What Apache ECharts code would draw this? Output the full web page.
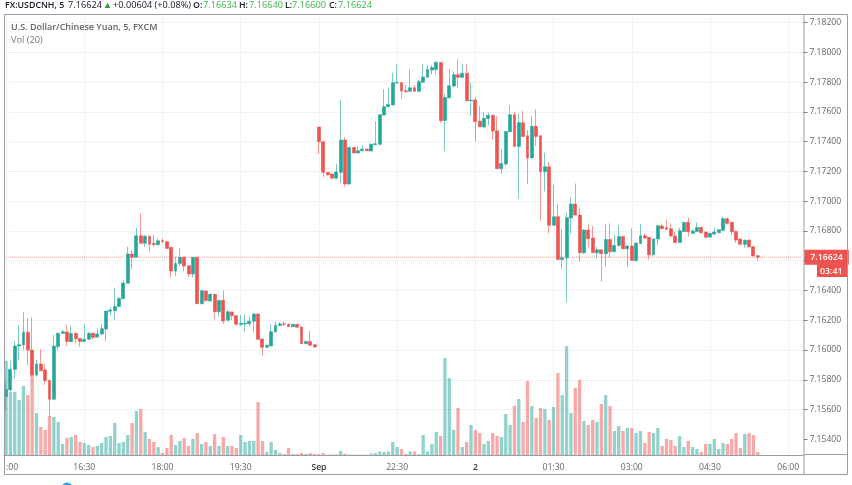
<!DOCTYPE html>
<html><head><meta charset="utf-8">
<style>html,body{margin:0;padding:0;background:#fff}#c{width:852px;height:485px}</style>
<script src="https://cdn.jsdelivr.net/npm/echarts@6/dist/echarts.min.js"></script>
</head><body><div id="c"></div>
<script>
const opens=[7.15687,7.15732,7.15870,7.16027,7.16034,7.16119,7.16000,7.15832,7.15906,7.15866,
7.15796,7.15669,7.16022,7.16112,7.16121,7.16056,7.16112,7.16078,7.16058,7.16072,
7.16112,7.16087,7.16108,7.16141,7.16260,7.16264,7.16293,7.16345,7.16448,7.16645,
7.16623,7.16768,7.16717,7.16762,7.16717,7.16708,7.16735,7.16728,7.16690,7.16531,
7.16582,7.16623,7.16567,7.16511,7.16623,7.16311,7.16397,7.16330,7.16374,7.16258,
7.16334,7.16200,7.16256,7.16231,7.16171,7.16175,7.16177,7.16193,7.16242,7.16074,
7.16018,7.16027,7.16121,7.16164,7.16177,7.16173,7.16157,7.16173,7.16155,7.16043,
7.16058,7.16036,7.17498,7.17400,7.17194,7.17183,7.17155,7.17194,7.17411,7.17115,
7.17362,7.17324,7.17339,7.17350,7.17337,7.17380,7.17382,7.17579,7.17635,7.17646,
7.17794,7.17798,7.17742,7.17738,7.17762,7.17738,7.17800,7.17832,7.17881,7.17885,
7.17932,7.17543,7.17695,7.17774,7.17850,7.17832,7.17859,7.17675,7.17680,7.17538,
7.17498,7.17556,7.17577,7.17473,7.17218,7.17250,7.17467,7.17581,7.17368,7.17527,
7.17440,7.17290,7.17503,7.17440,7.17198,7.17232,7.16838,7.16896,7.16609,7.16620,
7.16887,7.16981,7.16907,7.16654,7.16806,7.16752,7.16654,7.16674,7.16647,7.16743,
7.16660,7.16703,7.16763,7.16681,7.16699,7.16602,7.16716,7.16768,7.16757,7.16640,
7.16746,7.16833,7.16822,7.16815,7.16766,7.16723,7.16797,7.16858,7.16784,7.16797,
7.16824,7.16793,7.16759,7.16779,7.16788,7.16804,7.16882,7.16858,7.16797,7.16746,
7.16710,7.16739,7.16694,7.16634];
const closes=[7.15736,7.15870,7.16027,7.16036,7.16119,7.16000,7.15832,7.15906,7.15861,7.15794,
7.15669,7.16027,7.16112,7.16123,7.16058,7.16112,7.16076,7.16058,7.16072,7.16112,
7.16085,7.16108,7.16143,7.16262,7.16269,7.16293,7.16347,7.16450,7.16645,7.16623,
7.16768,7.16717,7.16764,7.16710,7.16708,7.16735,7.16728,7.16683,7.16531,7.16582,
7.16623,7.16564,7.16511,7.16623,7.16311,7.16399,7.16332,7.16374,7.16258,7.16332,
7.16195,7.16258,7.16231,7.16173,7.16180,7.16180,7.16193,7.16242,7.16072,7.16018,
7.16032,7.16123,7.16164,7.16175,7.16173,7.16157,7.16173,7.16153,7.16043,7.16058,
7.16032,7.16020,7.17400,7.17194,7.17178,7.17155,7.17196,7.17411,7.17115,7.17362,
7.17324,7.17339,7.17350,7.17339,7.17382,7.17386,7.17581,7.17635,7.17650,7.17796,
7.17798,7.17740,7.17735,7.17762,7.17738,7.17805,7.17834,7.17885,7.17899,7.17932,
7.17541,7.17697,7.17776,7.17850,7.17832,7.17859,7.17675,7.17680,7.17534,7.17500,
7.17556,7.17577,7.17471,7.17218,7.17254,7.17469,7.17581,7.17368,7.17529,7.17435,
7.17290,7.17503,7.17435,7.17198,7.17232,7.16838,7.16896,7.16609,7.16620,7.16889,
7.16981,7.16907,7.16654,7.16806,7.16748,7.16656,7.16674,7.16647,7.16743,7.16660,
7.16703,7.16763,7.16681,7.16699,7.16602,7.16719,7.16768,7.16752,7.16640,7.16746,
7.16835,7.16815,7.16811,7.16766,7.16723,7.16802,7.16858,7.16795,7.16800,7.16824,
7.16788,7.16757,7.16784,7.16793,7.16809,7.16882,7.16851,7.16795,7.16739,7.16710,
7.16737,7.16694,7.16632,7.16624];
const lows=[7.15597,7.15720,7.15810,7.15933,7.16000,7.15899,7.15821,7.15821,7.15861,7.15765,
7.15552,7.15669,7.16000,7.16108,7.16027,7.16056,7.16049,7.16022,7.16056,7.16067,
7.16072,7.16085,7.16101,7.16056,7.16233,7.16202,7.16287,7.16343,7.16448,7.16544,
7.16623,7.16717,7.16694,7.16661,7.16694,7.16699,7.16721,7.16683,7.16488,7.16497,
7.16564,7.16529,7.16488,7.16488,7.16311,7.16311,7.16327,7.16325,7.16209,7.16224,
7.16175,7.16191,7.16202,7.16168,7.16164,7.16123,7.16161,7.16117,7.16067,7.15960,
7.16016,7.16027,7.16119,7.16161,7.16161,7.16155,7.16155,7.16150,7.16043,7.16040,
7.16029,7.16018,7.17317,7.17165,7.17171,7.17155,7.17147,7.17124,7.17097,7.17115,
7.17324,7.17321,7.17337,7.17337,7.17335,7.17377,7.17382,7.17577,7.17630,7.17646,
7.17794,7.17691,7.17733,7.17735,7.17735,7.17735,7.17796,7.17827,7.17854,7.17852,
7.17527,7.17335,7.17691,7.17765,7.17762,7.17827,7.17673,7.17574,7.17400,7.17498,
7.17496,7.17511,7.17411,7.17216,7.17187,7.17236,7.17465,7.17366,7.17017,7.17433,
7.17115,7.17290,7.17371,7.16869,7.17066,7.16784,7.16838,7.16605,7.16546,7.16320,
7.16779,7.16907,7.16593,7.16645,7.16690,7.16649,7.16613,7.16459,7.16560,7.16622,
7.16658,7.16694,7.16676,7.16560,7.16600,7.16591,7.16714,7.16748,7.16609,7.16636,
7.16705,7.16811,7.16806,7.16761,7.16721,7.16721,7.16795,7.16761,7.16779,7.16795,
7.16784,7.16750,7.16755,7.16773,7.16786,7.16802,7.16844,7.16773,7.16721,7.16706,
7.16688,7.16690,7.16629,7.16600];
const highs=[7.15787,7.15929,7.16056,7.16168,7.16253,7.16213,7.16220,7.15933,7.16005,7.15911,
7.15798,7.16101,7.16117,7.16134,7.16172,7.16161,7.16117,7.16078,7.16175,7.16123,
7.16117,7.16146,7.16175,7.16262,7.16287,7.16414,7.16354,7.16470,7.16694,7.16672,
7.16820,7.16918,7.16773,7.16773,7.16773,7.16750,7.16750,7.16735,7.16694,7.16627,
7.16683,7.16623,7.16567,7.16623,7.16623,7.16408,7.16397,7.16381,7.16374,7.16341,
7.16399,7.16269,7.16258,7.16231,7.16236,7.16242,7.16224,7.16247,7.16242,7.16078,
7.16036,7.16175,7.16191,7.16188,7.16193,7.16180,7.16175,7.16175,7.16157,7.16061,
7.16130,7.16038,7.17498,7.17400,7.17194,7.17183,7.17250,7.17680,7.17429,7.17362,
7.17362,7.17366,7.17377,7.17353,7.17389,7.17538,7.17581,7.17753,7.17762,7.17863,
7.17921,7.17798,7.17780,7.17885,7.17780,7.17814,7.17921,7.17912,7.17914,7.17946,
7.17932,7.17720,7.17888,7.17870,7.17953,7.17919,7.17919,7.17798,7.17697,7.17639,
7.17597,7.17594,7.17577,7.17572,7.17350,7.17473,7.17646,7.17601,7.17590,7.17605,
7.17478,7.17572,7.17617,7.17444,7.17326,7.17261,7.17108,7.16981,7.16817,7.16925,
7.17030,7.17119,7.16952,7.16811,7.16846,7.16833,7.16694,7.16676,7.16846,7.16851,
7.16772,7.16840,7.16763,7.16705,7.16817,7.16719,7.16846,7.16784,7.16757,7.16750,
7.16840,7.16851,7.16873,7.16851,7.16795,7.16822,7.16858,7.16891,7.16811,7.16856,
7.16829,7.16795,7.16788,7.16822,7.16811,7.16896,7.16891,7.16860,7.16802,7.16750,
7.16744,7.16744,7.16699,7.16640];
const volumes=[94,63,63,55,69,60,80,42,28,25,
39,38,33,11,17,18,20,13,12,10,
8,9,12,18,19,32,12,13,20,32,
44,46,23,16,13,8,2,7,20,10,
14,17,9,16,22,11,13,9,21,9,
18,9,9,7,20,13,14,14,53,14,
3,13,5,2,1,7,1,1,2,1,
2,1,1,2,0.5,0.5,0.5,4,1.5,0.5,
0.3,0.3,0.3,0.3,1.5,2,3.5,3,3.5,13,
8,6,1,3.5,3.5,1,20,3.5,11,23,
19,97,77,25,47,8,13,30,25,22,
11,14,22,19,18,41,30,49,56,33,
74,49,37,47,46,35,48,82,60,109,
42,67,75,34,30,35,33,51,60,49,
24,29,24,27,27,22,24,12,23,22,
27,9,16,15,9,19,8,14,8,6,
3,11,11,16,6,12,11,16,22,7,
21,22,20,3];
const timeTicks=[":00","16:30","18:00","19:30","Sep","22:30","2","01:30","03:00","04:30","06:00"];
const priceTicks=[7.154,7.156,7.158,7.16,7.162,7.164,7.166,7.168,7.17,7.172,7.174,7.176,7.178,7.18,7.182];
const lastPrice=7.16624;
const countdown="03:41";
const barsPerTick=18, slotCount=184;

const UP="#26a69a",DOWN="#ef5350",FONT='"Open Sans",sans-serif';
const categories=Array.from({length:slotCount},(_,i)=>i%barsPerTick===0?(timeTicks[i/barsPerTick]||""):"");
const candles=opens.map((o,i)=>[o,closes[i],lows[i],highs[i]]);
const volData=volumes.map((v,i)=>({value:v,itemStyle:{color:closes[i]>=opens[i]?"rgba(38,166,154,0.5)":"rgba(239,83,80,0.5)"}}));
const lastPriceLine=categories.map(()=>lastPrice);
const isTick=i=>i%barsPerTick===0;

const header=[
 ["FX:USDCNH, 5",5,"#131722",600,8.8],["7.16624",68,"#131722",400,9.2],["▲",103,"#26a32a",400,9.2],
 ["+0.00604 (+0.08%)",113,"#131722",400,9.2],["O:",193,"#131722",600,8.8],["7.16634",203,"#3bb54a",400,9.2],
 ["H:",239,"#131722",600,8.8],["7.16640",249,"#3bb54a",400,9.2],["L:",285,"#131722",600,8.8],["7.16600",292,"#3bb54a",400,9.2],
 ["C:",329,"#131722",600,8.8],["7.16624",338,"#3bb54a",400,9.2]];
const gText=(text,x,y,fill,size,weight)=>({type:"text",silent:true,z:50,x,y,style:{text,fill,font:`${weight} ${size}px ${FONT}`,textVerticalAlign:"middle"}});
const gLine=(x1,y1,x2,y2)=>({type:"line",silent:true,z:40,shape:{x1,y1,x2,y2},style:{stroke:"#9a9da3",lineWidth:1}});

const chart=echarts.init(document.getElementById("c"),null,{renderer:"canvas"});
chart.setOption({
 animation:false,backgroundColor:"#fff",
 grid:[
  {left:3.9,right:48.6,top:14,bottom:30},
  {left:3.9,right:48.6,top:22.6,bottom:15.9}
 ],
 xAxis:[
  {type:"category",gridIndex:0,data:categories,
   axisLine:{lineStyle:{color:"#9a9da3",width:1}},
   axisTick:{length:4,alignWithLabel:true,interval:(i)=>isTick(i),lineStyle:{color:"#777"}},
   axisLabel:{interval:(i)=>isTick(i),margin:8,fontSize:8.6,fontFamily:FONT,color:"#666",alignMinLabel:"left",
     formatter:v=>(v==="Sep"||v==="2")?`{b|${v}}`:v,rich:{b:{fontSize:8.6,fontWeight:600,fontFamily:FONT,color:"#333"}}},
   splitLine:{show:true,alignWithLabel:true,interval:(i)=>isTick(i),lineStyle:{color:"#edf3f8",width:1}}},
  {type:"category",gridIndex:1,data:categories,show:false}
 ],
 yAxis:[
  {type:"value",gridIndex:0,min:0,max:441,show:false,splitLine:{show:false}},
  {type:"value",gridIndex:1,position:"right",min:7.152,max:7.182,interval:0.002,
   axisLine:{show:false},
   axisTick:{show:true,length:4,customValues:priceTicks,lineStyle:{color:"#777"}},
   axisLabel:{margin:6,customValues:priceTicks,fontSize:8.6,fontFamily:FONT,color:"#666",formatter:v=>v.toFixed(5)},
   splitLine:{show:true,showMinLine:false,showMaxLine:true,lineStyle:{color:"#edf3f8",width:1}}}
 ],
 series:[
  {type:"bar",xAxisIndex:0,yAxisIndex:0,data:volData,barWidth:3.3,z:2,silent:true},
  {type:"line",xAxisIndex:1,yAxisIndex:1,data:lastPriceLine,z:2,silent:true,symbol:"none",showSymbol:false,
   lineStyle:{type:"dotted",color:"rgba(239,83,80,0.55)",width:1},
   endLabel:{show:true,distance:3,formatter:()=>lastPrice.toFixed(5),backgroundColor:DOWN,color:"#fff",
     fontFamily:FONT,fontSize:8.8,fontWeight:600,padding:[3,6,3,6]}},
  {type:"candlestick",xAxisIndex:1,yAxisIndex:1,data:candles,barWidth:3.4,z:3,silent:true,clip:false,
   itemStyle:{color:UP,color0:DOWN,borderColor:"rgba(38,166,154,0.6)",borderColor0:"rgba(239,83,80,0.6)",borderWidth:1}}
 ],
 graphic:[
  {type:"rect",silent:true,z:40,shape:{x:4.5,y:14.5,width:843,height:460},style:{fill:"none",stroke:"#9a9da3",lineWidth:1}},
  gLine(804,14.5,804,474.5),
  gLine(804,454.5,847.5,454.5),
  {type:"rect",silent:true,z:45,shape:{x:817,y:264,width:30,height:13},style:{fill:DOWN}},
  gText(countdown,820,271,"#fff",8.8,600),
  {type:"circle",silent:true,z:45,shape:{cx:67,cy:488,r:5.5},style:{fill:"#2aa3ef"}},
  ...header.map(h=>gText(h[0],h[1],5.5,h[2],h[4],h[3])),
  gText("U.S. Dollar/Chinese Yuan, 5, FXCM",11,27.5,"#666",9,600),
  gText("Vol (20)",11,40,"#777",9.2,400)
 ]
});
</script></body></html>
